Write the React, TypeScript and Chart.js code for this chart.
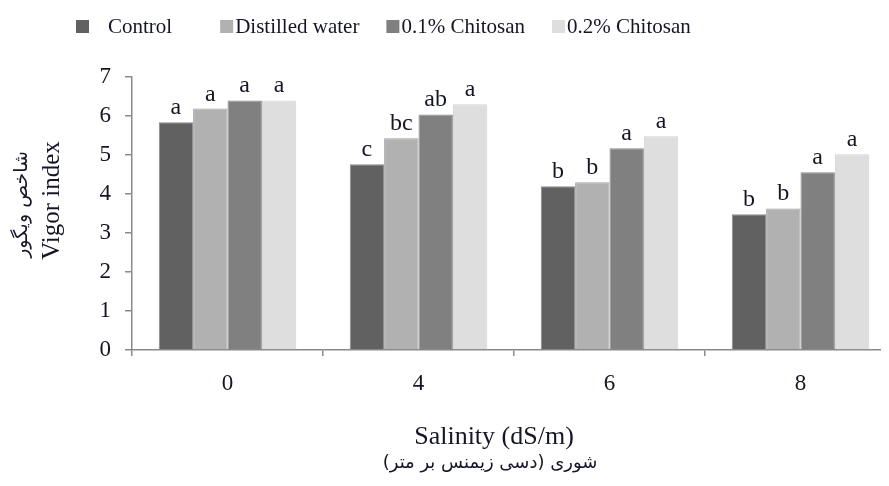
import { useEffect, useRef } from "react";
import { Chart, registerables } from "chart.js";
Chart.register(...registerables);

const categories = ["0", "4", "6", "8"];
const seriesNames = ["Control", "Distilled water", "0.1% Chitosan", "0.2% Chitosan"];
const controlValues = [5.84, 4.76, 4.2, 3.48];
const distilledValues = [6.19, 5.43, 4.3, 3.63];
const chitosan01Values = [6.4, 6.04, 5.17, 4.56];
const chitosan02Values = [6.4, 6.3, 5.48, 5.02];
const controlLetters = ["a", "c", "b", "b"];
const distilledLetters = ["a", "bc", "b", "b"];
const chitosan01Letters = ["a", "ab", "a", "a"];
const chitosan02Letters = ["a", "a", "a", "a"];
const seriesColors = ["#616161", "#b1b1b1", "#808080", "#dedede"];
const seriesBorders = ["#8a8a8a", "#a0a0a0", "#8a8a8a", "#d4d4d4"];
const xTitle = "Salinity (dS/m)";
const xTitleFa = "شوری (دسی زیمنس بر متر)";
const yTitle = "Vigor index";
const yTitleFa = "شاخص ویگور";

const letterSets = [controlLetters, distilledLetters, chitosan01Letters, chitosan02Letters];
const valueSets = [controlValues, distilledValues, chitosan01Values, chitosan02Values];

const SERIF = "'Liberation Serif', 'Times New Roman', serif";
const TEXT = "#15152a";

const annotPlugin = {
  id: "annot",
  afterDraw(chart: any) {
    const ctx = chart.ctx;
    const { left, right, top, bottom } = chart.chartArea;
    ctx.save();
    // significance letters
    ctx.font = `24px ${SERIF}`;
    ctx.fillStyle = TEXT;
    ctx.textAlign = "center";
    ctx.textBaseline = "alphabetic";
    chart.data.datasets.forEach((ds: any, i: number) => {
      const meta = chart.getDatasetMeta(i);
      meta.data.forEach((bar: any, j: number) => {
        ctx.fillText(letterSets[i][j], bar.x, bar.y - 8);
      });
    });
    // legend
    ctx.font = `21px ${SERIF}`;
    ctx.textAlign = "left";
    ctx.textBaseline = "middle";
    let x = 76;
    const ly = 26;
    chart.data.datasets.forEach((ds: any, i: number) => {
      ctx.fillStyle = ds.backgroundColor;
      ctx.fillRect(x, ly - 6, 13, 13);
      const gap = i === 0 ? 19 : 2;
      ctx.fillStyle = TEXT;
      const tx = x + 13 + gap;
      ctx.fillText(ds.label, tx, ly + 1);
      x = tx + ctx.measureText(ds.label).width + (i === 0 ? 48 : 27);
    });
    // x titles
    ctx.textAlign = "center";
    ctx.font = `26px ${SERIF}`;
    const cx = (left + right) / 2 - 20;
    ctx.fillText(xTitle, cx, bottom + 87);
    ctx.font = `18px 'DejaVu Sans', sans-serif`;
    ctx.fillText(xTitleFa, cx - 4, bottom + 113);
    // y titles
    const cy = (top + bottom) / 2 - 13;
    ctx.save();
    ctx.translate(left - 80, cy);
    ctx.rotate(-Math.PI / 2);
    ctx.font = `25px ${SERIF}`;
    ctx.fillText(yTitle, 0, 0);
    ctx.restore();
    ctx.save();
    ctx.translate(left - 110, cy + 4);
    ctx.rotate(-Math.PI / 2);
    ctx.font = `19px 'DejaVu Sans', sans-serif`;
    ctx.fillText(yTitleFa, 0, 0);
    ctx.restore();
    ctx.restore();
  },
};

export default function App() {
  const ref = useRef<HTMLCanvasElement>(null);
  useEffect(() => {
    if (!ref.current) return;
    const chart = new Chart(ref.current, {
      type: "bar",
      data: {
        labels: categories,
        datasets: seriesNames.map((name, i) => ({
          label: name,
          data: valueSets[i],
          backgroundColor: seriesColors[i],
          borderColor: seriesBorders[i],
          borderWidth: 1,
          categoryPercentage: 0.72,
          barPercentage: 1,
        })),
      },
      options: {
        responsive: false,
        animation: false,
        devicePixelRatio: 1,
        layout: { padding: { left: 0, right: 4, top: 77, bottom: 0 } },
        plugins: { legend: { display: false }, tooltip: { enabled: false } },
        scales: {
          x: {
            grid: {
              display: true,
              drawOnChartArea: false,
              drawTicks: true,
              tickLength: 6,
              color: "#8a8a8a",
              lineWidth: 1.5,
              offset: true,
            },
            border: { color: "#8a8a8a", width: 1.5 },
            ticks: { font: { family: SERIF, size: 23 }, color: TEXT, padding: 14 },
            afterFit: (s: any) => {
              s.height = 136;
            },
          },
          y: {
            min: 0,
            max: 7,
            ticks: { stepSize: 1, font: { family: SERIF, size: 23 }, color: TEXT, padding: 14 },
            grid: { drawOnChartArea: false, tickLength: 7, color: "#8a8a8a", lineWidth: 1.5 },
            border: { color: "#8a8a8a", width: 1.5 },
            afterFit: (s: any) => {
              s.width = 132;
            },
          },
        },
      },
      plugins: [annotPlugin],
    });
    return () => chart.destroy();
  }, []);
  return (
    <div style={{ margin: -8, width: 889, height: 486, overflow: "hidden", position: "relative", background: "#fff" }}>
      <canvas ref={ref} width={900} height={486} style={{ display: "block", width: 900, height: 486 }} />
    </div>
  );
}
